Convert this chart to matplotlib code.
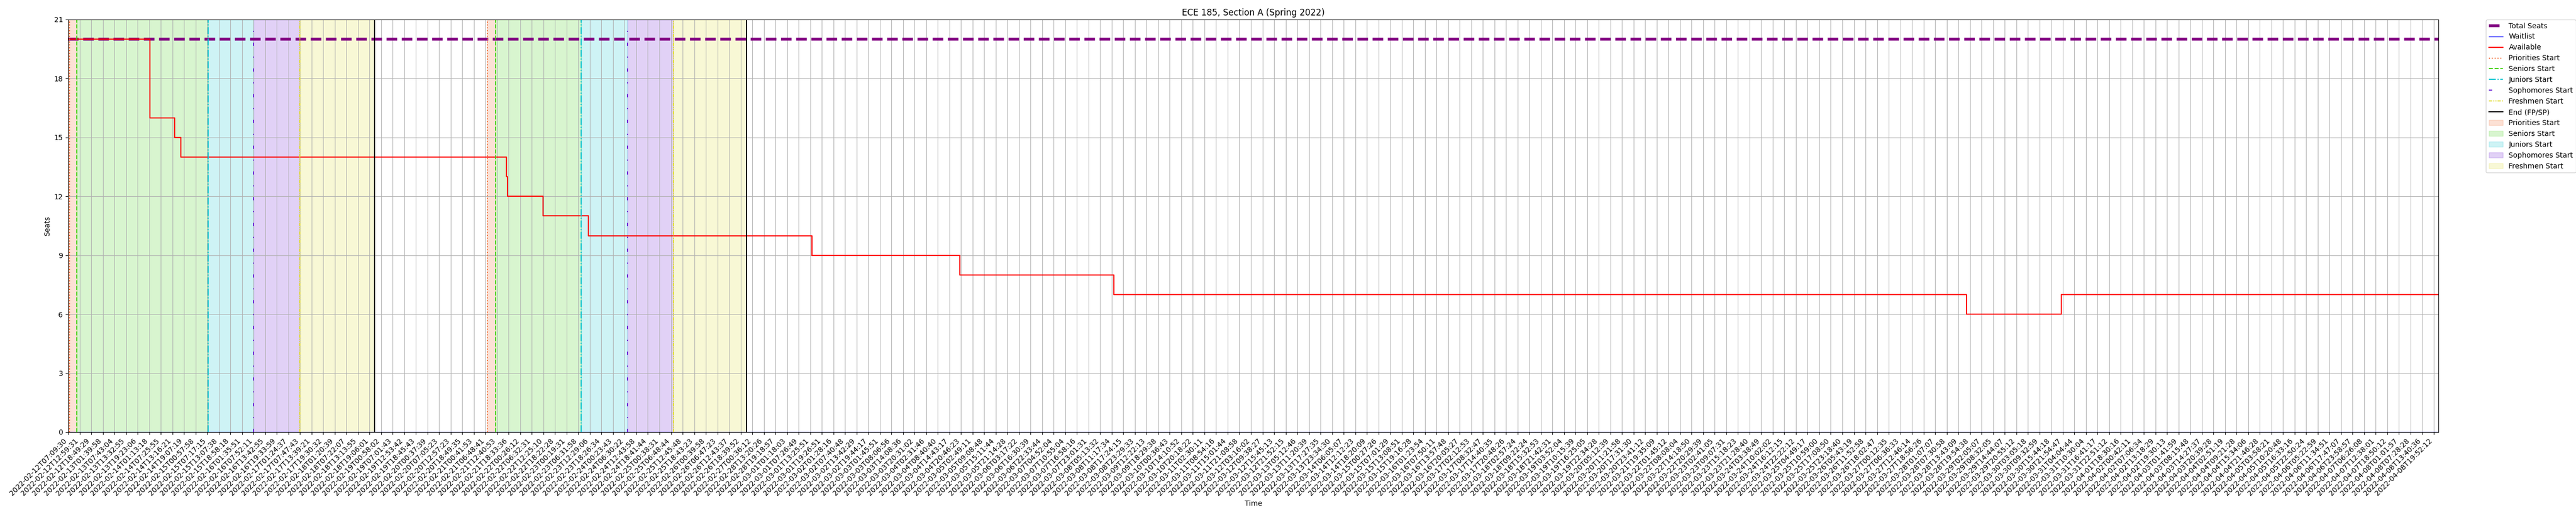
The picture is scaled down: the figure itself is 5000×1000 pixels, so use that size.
import numpy as np
import matplotlib
matplotlib.use("Agg")
import matplotlib.pyplot as plt

# one tick label every few scrapes, x is measured in tick steps
time_labels = [
    "2022-02-12T07:09:30", "2022-02-12T12:59:31", "2022-02-12T18:49:29", "2022-02-13T01:39:58",
    "2022-02-13T07:43:04", "2022-02-13T13:32:55", "2022-02-13T19:23:06", "2022-02-14T01:13:18",
    "2022-02-14T07:25:55", "2022-02-14T13:16:21", "2022-02-14T19:07:19", "2022-02-15T00:57:58",
    "2022-02-15T07:17:15", "2022-02-15T13:07:38", "2022-02-15T18:58:18", "2022-02-16T01:35:51",
    "2022-02-16T07:52:11", "2022-02-16T13:42:55", "2022-02-16T19:33:59", "2022-02-17T01:24:37",
    "2022-02-17T07:47:43", "2022-02-17T13:39:21", "2022-02-17T19:30:32", "2022-02-18T01:20:39",
    "2022-02-18T07:22:07", "2022-02-18T13:13:55", "2022-02-18T19:06:01", "2022-02-19T00:58:02",
    "2022-02-19T07:01:43", "2022-02-19T12:53:42", "2022-02-19T18:45:43", "2022-02-20T00:37:39",
    "2022-02-20T07:05:23", "2022-02-20T12:57:23", "2022-02-20T18:49:35", "2022-02-21T00:41:53",
    "2022-02-21T06:48:41", "2022-02-21T12:40:53", "2022-02-21T18:33:36", "2022-02-22T00:26:12",
    "2022-02-22T06:32:31", "2022-02-22T12:25:10", "2022-02-22T18:22:28", "2022-02-23T00:19:31",
    "2022-02-23T06:31:58", "2022-02-23T12:29:06", "2022-02-23T18:26:34", "2022-02-24T00:23:43",
    "2022-02-24T06:30:22", "2022-02-24T12:43:58", "2022-02-24T18:41:44", "2022-02-25T00:38:31",
    "2022-02-25T06:48:44", "2022-02-25T12:45:48", "2022-02-25T18:43:23", "2022-02-26T00:39:58",
    "2022-02-26T06:47:23", "2022-02-26T12:43:37", "2022-02-26T18:39:52", "2022-02-27T00:36:12",
    "2022-02-28T13:20:26", "2022-02-28T19:18:57", "2022-03-01T01:18:03", "2022-03-01T07:26:49",
    "2022-03-01T13:25:51", "2022-03-01T19:26:51", "2022-03-02T01:28:16", "2022-03-02T07:40:48",
    "2022-03-02T13:42:29", "2022-03-02T19:44:17", "2022-03-03T01:45:51", "2022-03-03T08:06:56",
    "2022-03-03T14:08:36", "2022-03-03T20:31:02", "2022-03-04T02:31:46", "2022-03-04T08:40:40",
    "2022-03-04T14:43:17", "2022-03-04T20:46:23", "2022-03-05T02:49:11", "2022-03-05T09:08:48",
    "2022-03-05T15:11:44", "2022-03-05T21:14:28", "2022-03-06T03:17:22", "2022-03-06T16:30:39",
    "2022-03-06T22:33:44", "2022-03-07T04:52:04", "2022-03-07T10:55:04", "2022-03-07T16:58:16",
    "2022-03-07T23:01:31", "2022-03-08T05:13:32", "2022-03-08T11:17:34", "2022-03-08T17:24:15",
    "2022-03-08T23:29:33", "2022-03-09T12:22:13", "2022-03-09T18:29:38", "2022-03-10T00:36:43",
    "2022-03-10T14:10:52", "2022-03-10T20:18:22", "2022-03-11T02:30:11", "2022-03-11T08:54:16",
    "2022-03-11T15:01:44", "2022-03-11T21:08:58", "2022-03-12T03:16:02", "2022-03-12T09:38:27",
    "2022-03-12T15:45:13", "2022-03-12T21:52:15", "2022-03-13T05:12:46", "2022-03-13T11:20:39",
    "2022-03-13T17:27:35", "2022-03-13T23:34:30", "2022-03-14T06:05:07", "2022-03-14T12:12:23",
    "2022-03-14T18:20:09", "2022-03-15T00:27:26", "2022-03-15T07:01:29", "2022-03-15T13:08:51",
    "2022-03-15T19:16:28", "2022-03-16T01:23:54", "2022-03-16T07:50:11", "2022-03-16T13:57:48",
    "2022-03-16T20:05:27", "2022-03-17T02:12:53", "2022-03-17T08:32:47", "2022-03-17T14:40:35",
    "2022-03-17T20:48:26", "2022-03-18T02:57:24", "2022-03-18T09:22:24", "2022-03-18T15:32:53",
    "2022-03-18T21:42:31", "2022-03-19T03:52:04", "2022-03-19T10:15:39", "2022-03-19T16:25:05",
    "2022-03-19T22:34:28", "2022-03-20T05:12:39", "2022-03-20T11:21:58", "2022-03-20T17:31:30",
    "2022-03-20T23:41:12", "2022-03-21T19:35:09", "2022-03-22T01:45:12", "2022-03-22T08:08:04",
    "2022-03-22T14:18:50", "2022-03-22T20:29:39", "2022-03-23T02:41:05", "2022-03-23T09:07:31",
    "2022-03-23T15:18:23", "2022-03-23T21:28:40", "2022-03-24T03:38:49", "2022-03-24T10:02:02",
    "2022-03-24T16:12:15", "2022-03-24T22:22:12", "2022-03-25T04:49:17", "2022-03-25T10:59:00",
    "2022-03-25T17:08:50", "2022-03-25T23:18:40", "2022-03-26T05:43:19", "2022-03-26T11:52:58",
    "2022-03-26T18:02:47", "2022-03-27T00:12:35", "2022-03-27T06:36:33", "2022-03-27T12:46:14",
    "2022-03-27T18:56:26", "2022-03-28T01:07:07", "2022-03-28T07:30:58", "2022-03-28T13:43:09",
    "2022-03-28T19:54:38", "2022-03-29T02:05:07", "2022-03-29T08:32:05", "2022-03-29T14:44:07",
    "2022-03-29T20:55:12", "2022-03-30T03:05:18", "2022-03-30T09:32:59", "2022-03-30T15:44:18",
    "2022-03-30T21:54:47", "2022-03-31T04:04:44", "2022-03-31T10:30:04", "2022-03-31T16:41:17",
    "2022-03-31T22:51:12", "2022-04-01T18:30:16", "2022-04-02T00:42:11", "2022-04-02T07:06:34",
    "2022-04-02T13:18:29", "2022-04-02T19:30:13", "2022-04-03T01:41:59", "2022-04-03T08:15:48",
    "2022-04-03T14:27:37", "2022-04-03T20:39:28", "2022-04-04T02:51:19", "2022-04-04T09:21:28",
    "2022-04-04T15:34:06", "2022-04-04T21:46:28", "2022-04-05T03:58:21", "2022-04-05T10:20:48",
    "2022-04-05T16:33:16", "2022-04-05T22:50:24", "2022-04-06T05:22:59", "2022-04-06T11:34:51",
    "2022-04-06T17:47:07", "2022-04-06T23:58:57", "2022-04-07T06:26:08", "2022-04-07T12:38:01",
    "2022-04-07T18:50:12", "2022-04-08T01:01:57", "2022-04-08T07:28:28", "2022-04-08T13:40:36",
    "2022-04-08T19:52:12",
]

last_x = 204.4

# available seats, change points
avail_x = [0, 7.08, 9.19, 9.73, 37.79, 37.90, 40.94, 44.85, 64.13, 76.9, 90.2, 163.7, 171.9, 204.4]
avail_y = [20, 16, 15, 14, 13, 12, 11, 10, 9, 8, 7, 6, 7, 7]

total_seats = 20
waitlist = 0

# first pass / second pass
priorities_start = [0.14, 36.16]
seniors_start = [0.77, 36.87]
juniors_start = [12.07, 44.25]
sophomores_start = [16.0, 48.25]
freshmen_start = [20.0, 52.2]
end_fp_sp = [26.45, 58.53]

c_prio = '#f2692e'
c_sen = '#3fd10f'
c_jun = '#0ec4cf'
c_soph = '#6a1bd6'
c_fresh = '#e0dc2e'

fig = plt.figure(figsize=(50, 10), dpi=100)
ax = fig.add_axes([0.0264, 0.161, 0.9202, 0.801])

ax.plot([0, last_x], [total_seats, total_seats], color='purple', linestyle='--', linewidth=4, label='Total Seats')
ax.plot([0, last_x], [waitlist, waitlist], color='blue', linewidth=1, label='Waitlist')
ax.plot(avail_x, avail_y, color='red', linewidth=1.6, drawstyle='steps-post', label='Available')

starts = [
    (priorities_start, c_prio, ':', 'Priorities Start'),
    (seniors_start, c_sen, '--', 'Seniors Start'),
    (juniors_start, c_jun, '-.', 'Juniors Start'),
    (sophomores_start, c_soph, (0, (3, 10, 1, 10)), 'Sophomores Start'),
    (freshmen_start, c_fresh, (0, (3, 1, 1, 1, 1, 1)), 'Freshmen Start'),
]
for xs, col, ls, name in starts:
    for i, x in enumerate(xs):
        ax.axvline(x, color=col, linestyle=ls, linewidth=1.5, label=name if i == 0 else None)
for i, x in enumerate(end_fp_sp):
    ax.axvline(x, color='black', linewidth=1.5, label='End (FP/SP)' if i == 0 else None)

# shaded periods
bounds = [priorities_start, seniors_start, juniors_start, sophomores_start, freshmen_start, end_fp_sp]
for k, (xs, col, ls, name) in enumerate(starts):
    for i in range(2):
        lo = bounds[k][i]
        if k == 0 and i == 0:
            lo = 0
        ax.axvspan(lo, bounds[k + 1][i], color=col, alpha=0.2, label=name if i == 0 else None)

ax.set_xlim(0, last_x)
ax.set_ylim(0, 21)
ax.set_yticks(range(0, 22, 3))
ax.set_xticks(range(len(time_labels)))
ax.set_xticklabels(time_labels, rotation=45, ha='right')
ax.grid(True)
ax.set_title('ECE 185, Section A (Spring 2022)')
ax.set_xlabel('Time')
ax.set_ylabel('Seats')
ax.legend(bbox_to_anchor=(1.02, 1), loc='upper left', borderaxespad=0)

fig.savefig('out.png', dpi=100)
